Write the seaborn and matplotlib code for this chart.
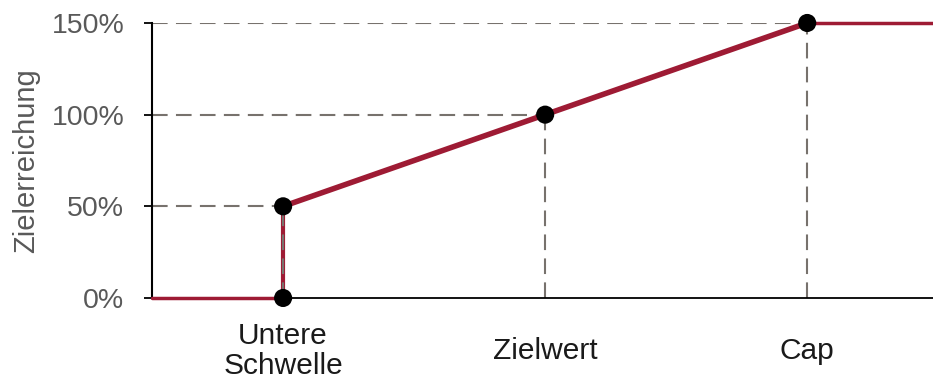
import numpy as np
import pandas as pd
import matplotlib
matplotlib.use("Agg")
import matplotlib.pyplot as plt
import seaborn as sns

sns.set_style("white")
plt.rcParams["font.family"] = ["Liberation Sans", "DejaVu Sans"]

# Thresholds on the x axis and the target achievement at each of them
threshold_labels = ["Untere\nSchwelle", "Zielwert", "Cap"]
threshold_pos = [1, 2, 3]
threshold_achievement = [0.5, 1.0, 1.5]

# Payout curve (x position, achievement)
curve_x = [0.5, 1, 1, 2, 3, 3.5]
curve_y = [0.0, 0.0, 0.5, 1.0, 1.5, 1.5]

# Points marked on the curve
point_x = [1, 1, 2, 3]
point_y = [0.0, 0.5, 1.0, 1.5]

y_ticks = [0, 0.5, 1.0, 1.5]
y_ticklabels = ["0%", "50%", "100%", "150%"]

red = "#9e1b34"
dash_grey = "#77726d"
text_grey = "#595959"

curve = pd.DataFrame({"x": curve_x, "y": curve_y})
points = pd.DataFrame({"x": point_x, "y": point_y})

fig = plt.figure(figsize=(9.33, 3.83), dpi=100)
ax = fig.add_axes([0.163, 0.222, 0.837, 0.718])

xmin, xmax = 0.5, 3.48

# flat parts thinner, rising part thicker (as in the reference)
flat = curve.iloc[[0, 1]]
rise = curve.iloc[[1, 2]]
slope = curve.iloc[[2, 3, 4]]
top = curve.iloc[[4, 5]]
for seg, lw in [(flat, 2.5), (rise, 3.0), (slope, 4.0), (top, 2.5)]:
    sns.lineplot(data=seg, x="x", y="y", ax=ax, color=red, linewidth=lw,
                 sort=False, estimator=None, zorder=3, clip_on=False)

# dashed guide lines
for xp, ya in zip(threshold_pos, threshold_achievement):
    ax.plot([xmin, xp], [ya, ya], color=dash_grey, lw=1.5,
            dashes=(7.5, 4), zorder=2)
    ax.plot([xp, xp], [0, ya], color=dash_grey, lw=1.5,
            dashes=(7.5, 4), zorder=4 if xp == 1 else 2)

sns.scatterplot(data=points, x="x", y="y", ax=ax, color="black", s=170,
                edgecolor="none", zorder=5, clip_on=False)

ax.set_xlim(xmin, xmax)
ax.set_ylim(0, 1.5)
ax.set_yticks(y_ticks)
ax.set_yticklabels(y_ticklabels)
ax.set_xticks(threshold_pos)
ax.set_xticklabels(threshold_labels, fontsize=21.5, color="#1a1a1a",
                   linespacing=1.1)
for lab in ax.get_xticklabels():
    lab.set_verticalalignment("center")

ax.tick_params(axis="y", length=6, width=1.3, color="black", pad=14,
               labelsize=20.5, labelcolor=text_grey, left=True)
ax.tick_params(axis="x", length=0, pad=38)

ax.set_xlabel("")
ax.set_ylabel("Zielerreichung", fontsize=21, color=text_grey, labelpad=8)

for side in ["top", "right"]:
    ax.spines[side].set_visible(False)
ax.spines["left"].set_color("black")
ax.spines["left"].set_linewidth(1.5)
ax.spines["bottom"].set_color("black")
ax.spines["bottom"].set_linewidth(1.3)

fig.savefig("out.png", dpi=100)
